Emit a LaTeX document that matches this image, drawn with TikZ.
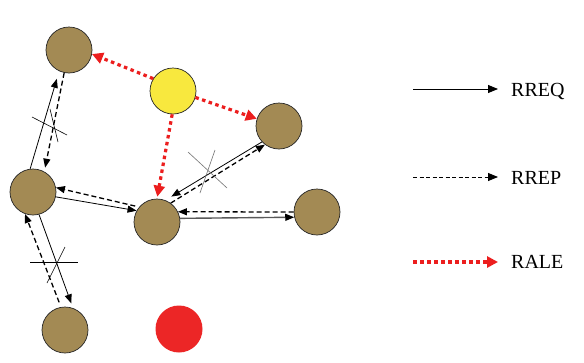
\documentclass[tikz,border=0pt]{standalone}
\usepackage{fontspec}
\setmainfont{Liberation Serif}
\usetikzlibrary{arrows.meta}
\definecolor{nodebrown}{RGB}{163,138,84}
\definecolor{srcyellow}{RGB}{248,232,62}
\definecolor{badred}{RGB}{236,38,38}
\definecolor{alered}{RGB}{236,30,30}
\begin{document}
\begin{tikzpicture}[x=1pt,y=-1pt,
  mnode/.style={circle,draw=black!85,line width=0.7pt,fill=nodebrown,minimum size=46pt,inner sep=0pt},
  req/.style={line width=0.8pt,-{Triangle[length=9pt,width=7pt,color=black]}},
  rep/.style={line width=1.3pt,dash pattern=on 5pt off 3pt,-{Triangle[length=9pt,width=7pt]}},
  ale/.style={alered,line width=3.2pt,dash pattern=on 3.5pt off 3.5pt,
    -{Triangle[length=11pt,width=11pt]}},
  brk/.style={line width=0.6pt},
  legtext/.style={anchor=west,font=\fontsize{20}{22}\selectfont,inner sep=0pt}]
\useasboundingbox (0,0) rectangle (584,362);
\fill[white] (0,0) rectangle (584,362);

% nodes
\node[mnode] (A) at (69,50) {};
\node[mnode,fill=srcyellow] (Y) at (173,91) {};
\node[mnode] (B) at (279,126) {};
\node[mnode] (C) at (33,192) {};
\node[mnode] (D) at (157,222) {};
\node[mnode] (E) at (317,212) {};
\node[mnode] (F) at (65,330) {};
\node[circle,fill=badred,minimum size=47pt,inner sep=0pt] (R) at (179,329) {};

% A <-> C
\draw[req,shorten >=8pt] (C.97) -- (A.245);
\draw[rep,shorten >=4pt] (A.258) -- (C.61);
% C <-> D
\draw[rep,shorten <=4pt] (D.140) -- (C.11);
\draw[req] (C.348) -- (D.151);
% D <-> B
\draw[req,shorten >=7pt] (B.223) -- (D.69);
\draw[rep] (D.54) -- (B.233);
% D <-> E
\draw[rep] (E.180) -- (D.26);
\draw[req,draw=black!65,line width=1.4pt] (D.9) -- (E.193);
% C <-> F
\draw[rep,shorten <=5pt] (F.100) -- (C.250);
\draw[req,shorten >=5pt] (C.285) -- (F.70);

% RALE from the source node
\draw[ale] (Y.148) -- (A.350);
\draw[ale] (Y.344) -- (B.162);
\draw[ale,shorten >=2pt] (Y.268) -- (D.90);

% broken-link marks
\draw[brk] (32,117) -- (67,135);
\draw[brk] (50,109) -- (58,142);
\draw[brk,black!55] (188,152) -- (227,188);
\draw[brk,black!55] (215,150) -- (200,193);
\draw[brk] (30,262) -- (78,262);
\draw[brk] (65,247) -- (47,283);

% legend
\coordinate (l1a) at (413,89);  \coordinate (l1b) at (498,89);
\coordinate (l2a) at (413,177); \coordinate (l2b) at (498,177);
\coordinate (l3a) at (413,262); \coordinate (l3b) at (498,262);
\draw[line width=0.9pt,-{Triangle[length=10pt,width=8pt]}] (l1a) -- (l1b);
\draw[line width=0.9pt,dash pattern=on 4pt off 2.5pt,-{Triangle[length=10pt,width=8pt]}] (l2a) -- (l2b);
\draw[alered,line width=3.2pt,dash pattern=on 3.5pt off 3.5pt,-{Triangle[length=11pt,width=11pt]}] (l3a) -- (l3b);
\node[legtext] (t1) at (511,91) {RREQ};
\node[legtext] (t2) at (511,178) {RREP};
\node[legtext] (t3) at (511,262) {RALE};
\end{tikzpicture}
\end{document}
